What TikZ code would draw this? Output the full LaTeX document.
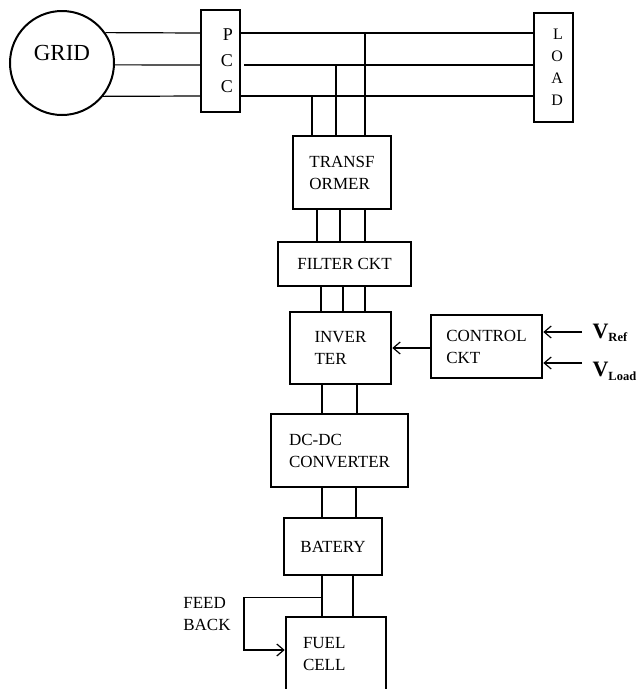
\documentclass[tikz,border=0pt]{standalone}
\usepackage{fontspec}
\setmainfont{Liberation Serif}
\usetikzlibrary{arrows.meta,calc}

\begin{document}
\begin{tikzpicture}[x=1pt,y=-1pt,line width=1.2pt,every node/.style={font=\fontsize{17}{22}\selectfont},block/.style={draw,line width=2.6pt,align=left,inner sep=0pt},bus/.style={draw,line width=2.4pt,inner sep=0pt,align=right},arr/.style={-{Straight Barb[length=7pt,width=12pt]}}]
\useasboundingbox (0,0) rectangle (643,689);


\node[draw,circle,line width=2pt,minimum size=104pt,inner sep=0pt] (grid) at (62,63) {};
\node[font=\fontsize{23}{26}\selectfont] (gridlbl) at ([yshift=10pt]grid.center) {GRID};
\node[bus,minimum width=39pt,minimum height=102pt,text width=25pt,font=\fontsize{18}{26}\selectfont] (pcc) at (220.5,61) {P\\C\\C};
\node[bus,minimum width=39pt,minimum height=109pt,text width=19pt,font=\fontsize{16}{22}\selectfont] (load) at (553.5,67.5) {L\\O\\A\\D};
\coordinate (la) at (0,33);
\coordinate (lb) at (0,65);
\coordinate (lc) at (0,96);
\draw (grid.35.2) -- (pcc.west |- la);
\draw (grid.-2.2) -- (pcc.west |- lb);
\draw (grid.-39.4) -- (pcc.west |- lc);
\draw (pcc.east |- la) -- (load.west |- la);
\draw ([xshift=3pt]pcc.east |- lb) -- (load.west |- lb);
\draw (pcc.east |- lc) -- (load.west |- lc);

\node[block,minimum width=98pt,minimum height=73pt] (trans) at (342,172.5) {TRANSF\\ORMER};
\node[block,minimum width=133pt,minimum height=44pt] (filt) at (344.5,264) {FILTER CKT};
\node[block,minimum width=101pt,minimum height=72pt] (inv) at (340.5,348) {INVER\\TER};
\node[block,minimum width=111pt,minimum height=63pt] (ctrl) at (486.5,346.5) {CONTROL\\CKT};
\node[block,minimum width=137pt,minimum height=73pt] (dcdc) at (339.5,450.5) {DC-DC\\CONVERTER};
\node[block,minimum width=98pt,minimum height=57pt] (bat) at (333,546.5) {BATERY};
\node[block,minimum width=100pt,minimum height=74pt,text width=66pt] (fuel) at (336,654) {FUEL\\CELL};

\foreach \dx/\ln in {-30/lc,-6/lb,23/la}
  \draw ([xshift=\dx pt]trans.north) -- ([xshift=\dx pt]trans.north |- \ln);
\foreach \dx in {-25,-2,23}
  \draw ([xshift=\dx pt]trans.south) -- ([xshift=\dx pt]trans.south |- filt.north);
\foreach \dx in {-23.5,-1.5,20.5}
  \draw ([xshift=\dx pt]filt.south) -- ([xshift=\dx pt]filt.south |- inv.north);
\foreach \dx in {-18.5,16.5}
  \draw ([xshift=\dx pt]inv.south) -- ([xshift=\dx pt]inv.south |- dcdc.north);
\foreach \dx in {-17.5,16.5}
  \draw ([xshift=\dx pt]dcdc.south) -- ([xshift=\dx pt]dcdc.south |- bat.north);
\foreach \dx in {-11,20}
  \draw ([xshift=\dx pt]bat.south) -- ([xshift=\dx pt]bat.south |- fuel.north);

\draw[arr] (ctrl.west |- inv.east) -- (inv.east);
\coordinate (inref) at (582,332);
\coordinate (inload) at (582,363);
\node[anchor=base west,inner sep=0pt] (vref) at (592,338) {\fontsize{22}{22}\selectfont\bfseries V\raisebox{-3pt}{\fontsize{12.5}{12.5}\selectfont Ref}};
\node[anchor=base west,inner sep=0pt] (vload) at (592,376) {\fontsize{22}{22}\selectfont\bfseries V\raisebox{-4pt}{\fontsize{12.5}{12.5}\selectfont Load}};
\draw[arr] (inref) -- (ctrl.east |- inref);
\draw[arr] (inload) -- (ctrl.east |- inload);

\coordinate (fb) at ($(bat.south)+(-11,21)$);
\draw[arr] (fb) -- ++(-78,0) |- ($(fuel.west)+(0,-4)$);
\node[align=left] (fblbl) at (207,614) {FEED\\BACK};

\end{tikzpicture}
\end{document}
